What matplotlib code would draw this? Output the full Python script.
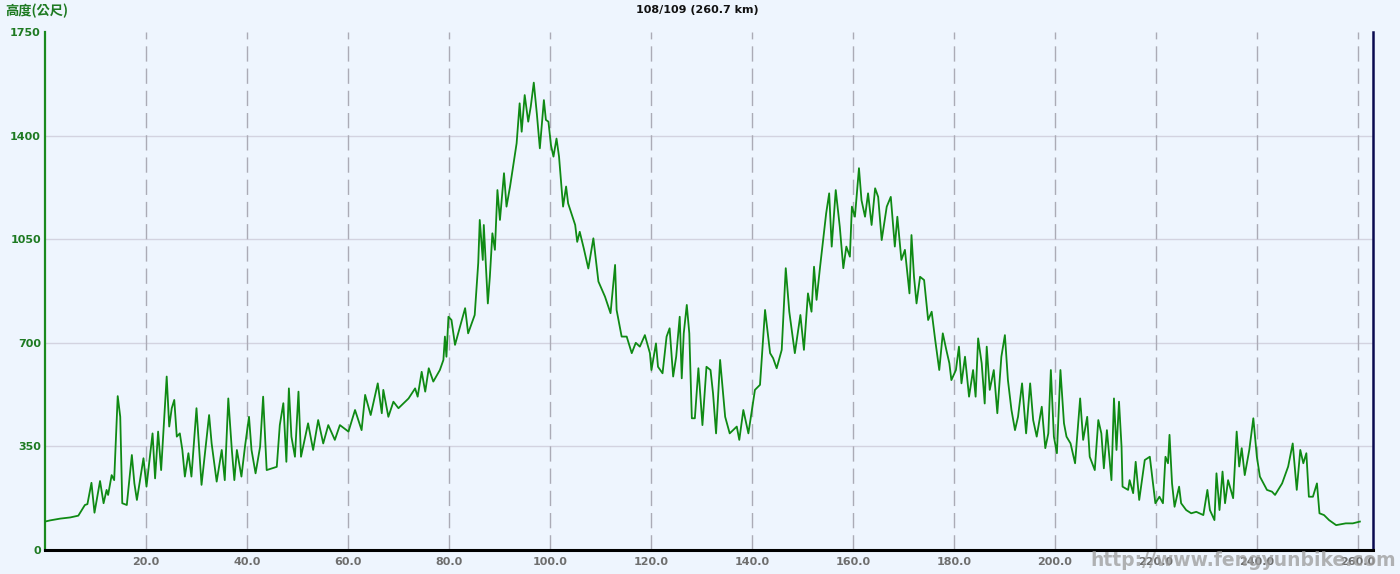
"""
Elevation profile, 108/109 route (260.7 km).
Recreates the cycling-route altitude chart with matplotlib.
"""

import matplotlib
matplotlib.use("Agg")
import matplotlib.pyplot as plt

# ── Data ──────────────────────────────────────────────────────────────────────
distance_km = [
    0.0, 1.0, 3.0, 5.0, 6.6, 7.9, 8.4, 9.2, 9.8, 10.9, 11.6, 12.2, 12.5, 13.2, 13.7,
    14.4, 14.9, 15.3, 16.2, 17.2, 17.7, 18.2, 19.5, 20.1, 21.3, 21.8, 22.4, 23.0,
    24.1, 24.6, 25.1, 25.6, 26.1, 26.7, 27.2, 27.7, 28.4, 29.0, 30.0, 31.0, 32.5,
    33.0, 34.0, 35.0, 35.6, 36.3, 37.0, 37.5, 38.0, 38.9, 39.6, 40.4, 40.9, 41.7,
    42.6, 43.2, 43.9, 45.9, 46.5, 47.2, 47.8, 48.3, 48.8, 49.5, 50.2, 50.7, 52.1,
    53.1, 54.1, 55.1, 56.1, 57.4, 58.4, 60.1, 61.4, 62.7, 63.4, 64.5, 65.9, 66.7,
    67.0, 68.0, 69.0, 70.0, 72.0, 73.3, 73.8, 74.6, 75.3, 76.0, 76.9, 78.2, 78.9,
    79.2, 79.5, 79.9, 80.5, 81.2, 83.2, 83.8, 85.1, 85.8, 86.1, 86.7, 86.9, 87.7,
    88.1, 88.6, 89.1, 89.6, 90.1, 90.9, 91.4, 92.1, 93.4, 94.0, 94.4, 95.0, 95.7,
    96.2, 96.8, 97.4, 98.0, 98.8, 99.2, 99.7, 100.2, 100.7, 101.3, 101.8, 102.6,
    103.2, 103.6, 105.0, 105.4, 105.9, 106.7, 107.6, 108.6, 109.6, 110.9, 112.0,
    112.9, 113.2, 114.2, 115.2, 116.2, 117.0, 117.8, 118.8, 119.8, 120.1, 121.0,
    121.4, 122.3, 123.1, 123.7, 124.4, 125.0, 125.7, 126.1, 126.5, 127.1, 127.6,
    128.1, 128.7, 129.4, 130.2, 131.0, 131.8, 132.3, 132.9, 133.7, 134.7, 135.6,
    137.0, 137.5, 138.3, 139.3, 140.6, 141.6, 142.6, 143.6, 144.2, 144.9, 145.9,
    146.7, 147.4, 148.5, 149.6, 150.3, 151.1, 151.8, 152.3, 152.8, 153.5, 154.1,
    154.7, 155.3, 155.8, 156.6, 157.4, 158.1, 158.7, 159.4, 159.8, 160.4, 161.2,
    161.7, 162.4, 163.0, 163.7, 164.4, 165.0, 165.7, 166.7, 167.5, 168.3, 168.8,
    169.6, 170.3, 171.2, 171.6, 172.1, 172.6, 173.3, 174.1, 174.9, 175.6, 176.3,
    177.1, 177.8, 178.5, 179.1, 179.5, 180.4, 181.0, 181.5, 182.2, 183.0, 183.8,
    184.3, 184.8, 185.5, 186.1, 186.5, 187.1, 187.9, 188.6, 189.4, 190.1, 190.7,
    191.4, 192.1, 192.7, 193.5, 194.3, 195.1, 195.7, 196.4, 197.4, 198.1, 198.7,
    199.2, 199.8, 200.4, 201.1, 201.8, 202.3, 203.1, 204.0, 205.0, 205.6, 206.4,
    206.9, 207.9, 208.6, 209.2, 209.7, 210.3, 211.2, 211.7, 212.2, 212.7, 213.2,
    213.4, 214.5, 214.8, 215.5, 216.0, 216.7, 217.8, 218.8, 219.9, 220.7, 221.4,
    221.9, 222.4, 222.7, 223.2, 223.7, 224.6, 225.0, 226.0, 227.0, 228.0, 229.4,
    230.2, 230.7, 231.6, 232.0, 232.6, 233.2, 233.7, 234.3, 235.3, 236.0, 236.5,
    237.0, 237.6, 238.5, 239.3, 240.0, 240.6, 242.0, 243.0, 243.6, 245.0, 246.2,
    247.1, 247.9, 248.6, 249.2, 249.8, 250.3, 251.1, 251.9, 252.4, 253.3, 254.3,
    255.7, 257.6, 259.0, 260.4,
]
elevation_m = [
    96, 100, 106, 110, 116, 152, 155, 227, 126, 233, 158, 203, 186, 253, 236,
    520, 450, 158, 152, 321, 225, 169, 310, 214, 394, 242, 400, 270,
    586, 417, 479, 507, 383, 394, 338, 248, 327, 248, 479, 220, 456,
    360, 231, 338, 236, 512, 338, 236, 338, 248, 349, 450, 338, 259,
    349, 518, 270, 281, 422, 496, 298, 546, 383, 315, 535, 315, 428,
    338, 439, 360, 422, 372, 422, 400, 473, 405, 524, 456, 563, 462,
    541, 450, 501, 479, 512, 546, 518, 602, 535, 614, 569, 608, 642,
    721, 653, 788, 777, 693, 817, 732, 794, 970, 1115, 980, 1098, 833,
    923, 1070, 1014, 1216, 1115, 1273, 1160, 1228, 1374, 1509, 1413, 1537, 1447,
    1498, 1579, 1475, 1357, 1520, 1453, 1447, 1368, 1329, 1390, 1329, 1160,
    1228, 1171, 1098, 1041, 1075, 1019, 951, 1053, 907, 856, 800,
    963, 811, 721, 721, 665, 700, 687, 726, 665, 608, 698,
    619, 597, 721, 749, 586, 653, 788, 580, 732, 828, 732,
    445, 445, 614, 422, 619, 608, 529, 394, 642, 450, 394,
    417, 372, 473, 394, 541, 558, 811, 665, 648, 614, 676,
    952, 805, 665, 794, 676, 867, 805, 957, 845, 957, 1047,
    1137, 1205, 1025, 1216, 1092, 952, 1025, 991, 1160, 1126, 1290,
    1182, 1126, 1205, 1098, 1222, 1193, 1047, 1160, 1193, 1025, 1126,
    980, 1014, 867, 1064, 923, 833, 923, 912, 777, 805, 709,
    608, 732, 676, 631, 574, 608, 687, 563, 653, 518, 608,
    518, 715, 631, 495, 687, 541, 608, 462, 653, 726, 574,
    473, 405, 450, 563, 394, 563, 439, 383, 484, 344, 394,
    608, 383, 327, 608, 428, 383, 360, 293, 512, 372, 450,
    315, 270, 439, 394, 276, 405, 236, 512, 338, 501, 349,
    214, 203, 236, 192, 298, 169, 304, 315, 158, 180, 158,
    315, 293, 389, 225, 146, 214, 158, 135, 124, 129, 118,
    203, 135, 101, 259, 135, 265, 158, 236, 175, 400, 282,
    344, 253, 338, 445, 315, 248, 203, 197, 186, 225, 282,
    360, 203, 338, 293, 327, 180, 180, 225, 124, 118, 101,
    84, 90, 90, 96,
]
y_ticks = [0, 350, 700, 1050, 1400, 1750]
x_ticks = [20, 40, 60, 80, 100, 120, 140, 160, 180, 200, 220, 240, 260]
x_tick_labels = [f"{v:.1f}" for v in x_ticks]

TITLE = "108/109 (260.7 km)"
Y_TITLE = "高度(公尺)"
WATERMARK = "http://www.fengyunbike.com"

# ── Style ─────────────────────────────────────────────────────────────────────
BG = "#eef5fe"
LINE_GREEN = "#0f8a14"
LABEL_GREEN = "#1e7a22"
plt.rcParams["font.family"] = ["DejaVu Sans"]

fig = plt.figure(figsize=(14, 5.74), dpi=100, facecolor=BG)
ax = fig.add_axes([45 / 1400, 1 - 550 / 574, (1373 - 45) / 1400, (550 - 32) / 574])
ax.set_facecolor(BG)

ax.plot(distance_km, elevation_m, color=LINE_GREEN, lw=1.3, zorder=3)

ax.set_xlim(0, 263)
ax.set_ylim(0, 1750)

# grid: solid horizontal, dashed vertical
for y in y_ticks[1:-1]:
    ax.axhline(y, color="#d3d3e0", lw=1.0, zorder=1)
for x in x_ticks:
    ax.axvline(x, color="#ababb6", lw=1.0, ls=(0, (11, 5)), zorder=1)

ax.set_yticks(y_ticks)
ax.set_yticklabels([str(v) for v in y_ticks], color=LABEL_GREEN,
                   fontsize=8, fontweight="bold")
ax.set_xticks(x_ticks)
ax.set_xticklabels(x_tick_labels, color="#6e6e6e", fontsize=8, fontweight="bold")
ax.tick_params(axis="both", length=0)
ax.tick_params(axis="y", pad=3)
ax.tick_params(axis="x", pad=5)

ax.spines["top"].set_visible(False)
ax.spines["left"].set_color("#1a8a1e")
ax.spines["left"].set_linewidth(1.6)
ax.spines["bottom"].set_color("black")
ax.spines["bottom"].set_linewidth(2.2)
ax.spines["right"].set_color("#0a0a50")
ax.spines["right"].set_linewidth(1.8)

fig.text(697 / 1400, 1 - 10 / 574, TITLE, ha="center", va="center",
         fontsize=8, fontweight="bold", color="#111111")
fig.text(5 / 1400, 1 - 11 / 574, Y_TITLE, ha="left", va="center",
         fontsize=9.5, fontweight="bold", color=LABEL_GREEN,
         family=["Noto Sans CJK TC", "DejaVu Sans"])
# site watermark sits over the last x labels, as in the original image
fig.text(1396 / 1400, 1 - 561 / 574, WATERMARK, ha="right", va="center",
         fontsize=13.5, fontweight="bold", color="#9a9a9a", alpha=0.75)

fig.savefig("out.png", dpi=100, facecolor=fig.get_facecolor())
